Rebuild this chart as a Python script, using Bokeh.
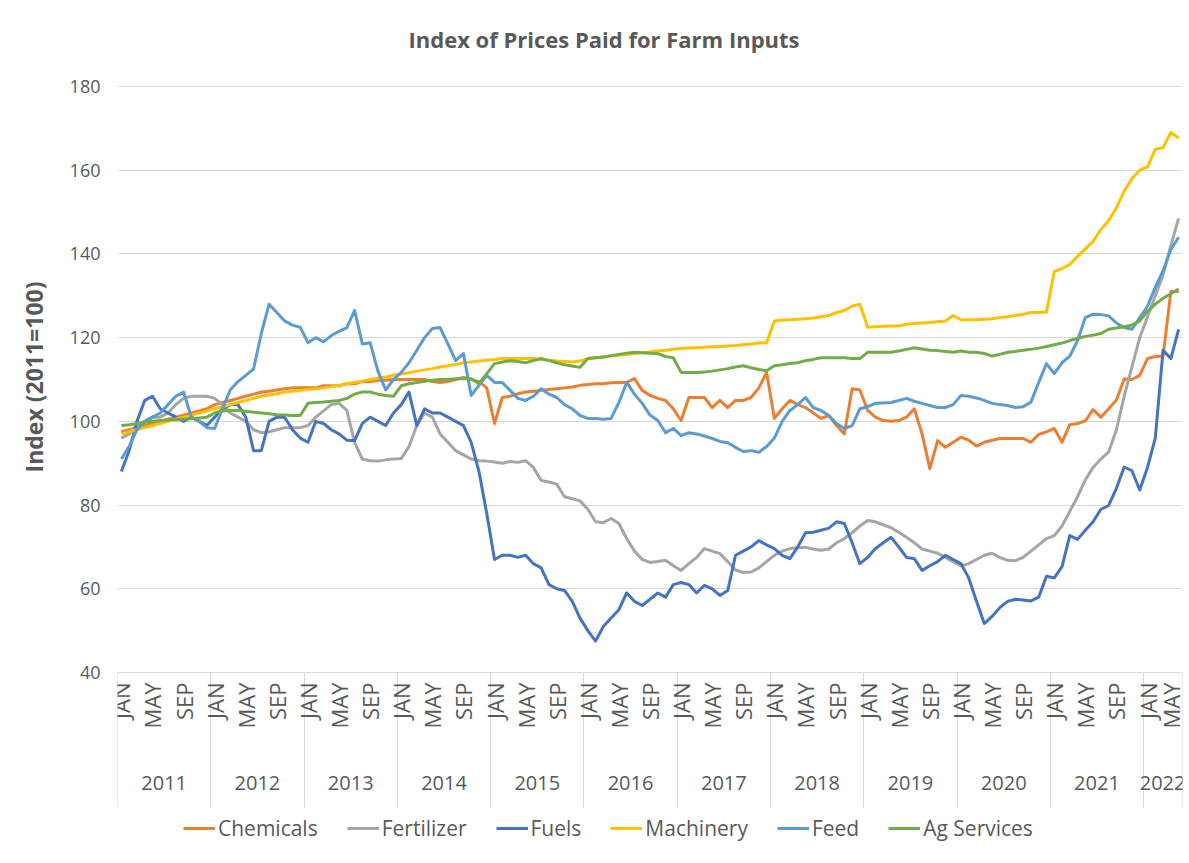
import math
from bokeh.plotting import figure
from bokeh.models import Range1d, LinearAxis, FixedTicker, Legend, LegendItem, ColumnDataSource, Title
from bokeh.embed import file_html
from bokeh.resources import INLINE

TITLE = "Index of Prices Paid for Farm Inputs"
Y_LABEL = "Index (2011=100)"
YEARS = ["2011", "2012", "2013", "2014", "2015", "2016", "2017", "2018", "2019", "2020", "2021", "2022"]
MONTHS = ["JAN", "FEB", "MAR", "APR", "MAY", "JUN", "JUL", "AUG", "SEP", "OCT", "NOV", "DEC"]
MONTHS_IN_YEAR = [12, 12, 12, 12, 12, 12, 12, 12, 12, 12, 12, 5]
SHOWN_MONTHS = ["JAN", "MAY", "SEP"]
Y_TICKS = [40, 60, 80, 100, 120, 140, 160, 180]

chemicals = [
    97.5, 98, 98.5, 99, 99.5, 100, 100.5, 101, 101.5, 102, 102.5, 103,
    104, 104.5, 105, 105.5, 106, 106.5, 107, 107.2, 107.5, 107.8, 108, 108,
    108, 108, 108.5, 108.5, 108.5, 109, 109, 109.5, 109.5, 109.8, 109.8, 110,
    110, 110, 110, 110, 109.5, 109.3, 109.5, 110, 110.5, 110, 109.5, 108,
    99.5, 105.7, 106, 106.6, 107, 107.2, 107.4, 107.6, 107.8, 108, 108.2, 108.6,
    108.8, 109, 109, 109.2, 109.3, 109.3, 110.2, 107.4, 106.2, 105.5, 105, 103,
    100.2, 105.7, 105.7, 105.7, 103.3, 105, 103.3, 105, 105, 105.7, 108, 111.7,
    100.7, 103, 105, 104, 103.3, 102, 100.7, 101.4, 99, 97, 107.8, 107.5,
    102.6, 101, 100.2, 100, 100.2, 101, 103, 97, 88.7, 95.4, 93.8, 95,
    96.2, 95.5, 94.1, 95, 95.5, 95.9, 95.9, 95.9, 95.9, 95, 96.9, 97.5,
    98.3, 95, 99.2, 99.5, 100.1, 102.8, 101, 103, 105.1, 110.1, 110, 111,
    115, 115.5, 115.6, 131, 131,
]
fertilizer = [
    96, 97, 99, 100, 101, 101, 102, 104, 105.5, 106, 106, 106,
    105.5, 104, 102, 101, 100, 98, 97.3, 97.5, 98, 98.5, 98.5, 98.5,
    99, 101, 102.5, 104, 104.3, 102.6, 95, 91, 90.6, 90.5, 90.8, 91,
    91.1, 94, 99, 102, 101, 97, 95, 93, 92, 91, 90.6, 90.5,
    90.3, 90, 90.4, 90.2, 90.6, 89, 85.9, 85.5, 85, 82, 81.5, 81,
    79, 76, 75.8, 76.8, 75.6, 72, 69, 67, 66.3, 66.5, 66.8, 65.5,
    64.4, 66, 67.5, 69.6, 69, 68.4, 66.5, 64.5, 63.9, 64, 65, 66.5,
    68, 69, 69.6, 69.8, 69.9, 69.5, 69.2, 69.5, 71, 72, 73.4, 75,
    76.3, 76, 75.3, 74.6, 73.5, 72.3, 71, 69.5, 69, 68.5, 67.5, 66.5,
    65.5, 66, 67, 68, 68.5, 67.5, 66.8, 66.7, 67.5, 69, 70.5, 72,
    72.7, 75, 78.5, 82, 86, 89, 91, 92.7, 98, 106, 113, 120,
    125, 130, 135, 142, 148.5,
]
fuels = [
    88, 93, 100, 105, 106, 103, 102, 101, 100, 101, 100, 99,
    101, 103, 104, 104, 101, 93, 93, 100, 101, 101, 98, 96,
    95, 100, 99.5, 98, 97, 95.5, 95.4, 99.5, 101, 100, 99, 102,
    104, 107, 99, 103, 102, 102, 101, 100, 99, 95, 88, 78,
    67, 68, 68, 67.5, 68, 66, 65, 61, 60, 59.6, 57, 53,
    50, 47.5, 51, 53, 55, 59, 57, 56, 57.5, 59, 58, 61,
    61.5, 61, 59, 60.8, 60, 58.4, 59.6, 68, 69, 70, 71.5, 70.5,
    69.6, 68, 67.2, 70, 73.4, 73.5, 74, 74.5, 76, 75.6, 71, 66,
    67.5, 69.6, 71, 72.3, 70, 67.5, 67.2, 64.4, 65.5, 66.5, 68, 67,
    66, 62.6, 57, 51.7, 53.4, 55.5, 57, 57.5, 57.3, 57.1, 58, 63,
    62.6, 65.3, 72.7, 71.8, 74, 76, 79, 79.9, 84, 89.1, 88.2, 83.6,
    89, 96, 117, 115, 122,
]
machinery = [
    97, 97.5, 98, 98.5, 99, 99.5, 100, 100.5, 101, 101.5, 102, 102.5,
    103, 103.5, 104, 104.5, 105, 105.5, 106, 106.3, 106.6, 107, 107.2, 107.4,
    107.6, 107.8, 108, 108.3, 108.6, 109, 109.3, 109.6, 110, 110.3, 110.6, 111,
    111.3, 111.6, 112, 112.3, 112.6, 113, 113.3, 113.6, 114, 114.2, 114.4, 114.6,
    114.8, 115, 115, 115, 115, 115, 114.8, 114.6, 114.4, 114.3, 114.2, 114.4,
    115, 115.2, 115.4, 115.6, 115.8, 116, 116.2, 116.4, 116.6, 116.8, 117, 117.2,
    117.4, 117.5, 117.6, 117.7, 117.8, 117.9, 118, 118.1, 118.3, 118.5, 118.7, 118.8,
    124, 124.2, 124.3, 124.4, 124.5, 124.7, 125, 125.3, 126, 126.5, 127.5, 128,
    122.5, 122.6, 122.7, 122.8, 122.8, 123.2, 123.4, 123.5, 123.6, 123.8, 124, 125.3,
    124.3, 124.3, 124.3, 124.4, 124.5, 124.8, 125, 125.3, 125.6, 126, 126, 126.1,
    135.8, 136.5, 137.5, 139.4, 141.2, 143, 145.8, 148, 151, 155, 158, 160,
    160.8, 165, 165.4, 169, 167.7,
]
feed = [
    91, 94, 98, 100, 101, 102, 104, 106, 107, 101, 100, 98.5,
    98.3, 103, 107.5, 109.5, 111, 112.5, 121, 128, 126, 124, 123, 122.5,
    118.8, 120, 119, 120.5, 121.5, 122.4, 126.5, 118.5, 118.8, 112, 107.5, 110,
    111.7, 114, 117, 120, 122.2, 122.4, 118.5, 114.5, 116.2, 106.2, 108.6, 111,
    109.3, 109.3, 107.4, 105.5, 105, 106, 107.8, 106.5, 105.7, 104, 103, 101.4,
    100.7, 100.7, 100.5, 100.7, 104.5, 109.3, 106.5, 104.3, 101.5, 100.2, 97.3, 98.3,
    96.6, 97.3, 97, 96.5, 95.9, 95.2, 94.9, 93.8, 92.8, 93, 92.6, 94,
    96, 100, 102.6, 104, 105.7, 103.3, 102.6, 101.4, 99.5, 98.3, 99, 103,
    103.5, 104.3, 104.4, 104.5, 105, 105.5, 104.8, 104.3, 103.8, 103.3, 103.3, 104,
    106.2, 106, 105.6, 105, 104.3, 104, 103.8, 103.3, 103.5, 104.6, 109.3, 113.8,
    111.4, 114, 115.6, 119.3, 124.8, 125.6, 125.5, 125.2, 123.5, 122.4, 122, 124.8,
    127.5, 132, 136, 141, 144,
]
ag_services = [
    99, 99.2, 99.5, 99.8, 100, 100.2, 100.3, 100.4, 100.5, 100.6, 100.8, 101,
    102, 102.5, 102.6, 102.6, 102.4, 102.2, 102, 101.8, 101.6, 101.5, 101.4, 101.4,
    104.3, 104.5, 104.6, 104.8, 105, 105.5, 106.5, 107, 107, 106.5, 106.2, 106,
    108.5, 109, 109.3, 109.6, 109.8, 110, 110, 110.2, 110.2, 110.2, 109, 111.4,
    113.8, 114.2, 114.5, 114.3, 114, 114.5, 115, 114.5, 114, 113.5, 113.2, 112.9,
    115, 115.2, 115.4, 115.7, 116, 116.3, 116.5, 116.4, 116.3, 116.2, 115.5, 115.2,
    111.7, 111.7, 111.7, 111.8, 112, 112.3, 112.6, 113, 113.3, 112.8, 112.4, 112.1,
    113.3, 113.5, 113.8, 114, 114.5, 114.8, 115.2, 115.2, 115.2, 115.2, 115, 115,
    116.5, 116.5, 116.5, 116.5, 116.8, 117.2, 117.6, 117.3, 117, 116.9, 116.7, 116.5,
    116.8, 116.5, 116.5, 116.2, 115.6, 116, 116.5, 116.7, 117, 117.2, 117.5, 117.9,
    118.3, 118.7, 119.3, 119.8, 120.3, 120.6, 121, 122, 122.3, 122.6, 123, 124,
    126.3, 128, 129.4, 130.5, 131.6,
]

SERIES_NAMES = ["Chemicals", "Fertilizer", "Fuels", "Machinery", "Feed", "Ag Services"]
SERIES_VALUES = [chemicals, fertilizer, fuels, machinery, feed, ag_services]
SERIES_COLORS = ["#ED7D31", "#A5A5A5", "#4472C4", "#FFC000", "#5B9BD5", "#70AD47"]

FONT = "Open Sans"
TEXT_COLOR = "#595959"
GRID_COLOR = "#D9D9D9"

# ---- layout (pixels) ----
FIG_W, FIG_H = 1185, 861
PLOT_LEFT, PLOT_RIGHT_PAD = 117, 3
FRAME_TOP = 74             # frame starts a little above the 180 gridline
AXIS_TOP_PX = 86           # where the value axis maximum sits
AXIS_Y_PX = 672            # where the value axis minimum sits
FRAME_BOTTOM = FIG_H - 3   # frame extends below the axis so the legend can sit inside it

# category structure of the x axis
month_labels = [MONTHS[m] for n in MONTHS_IN_YEAR for m in range(n)]
x_index = list(range(len(month_labels)))
year_starts = []
acc = 0
for n in MONTHS_IN_YEAR:
    year_starts.append(acc)
    acc += n
year_bounds = [s - 0.5 for s in year_starts] + [acc - 0.5]
year_centers = [s + (n - 1) / 2 for s, n in zip(year_starts, MONTHS_IN_YEAR)]
shown_ticks = [i for i, lab in enumerate(month_labels) if lab in SHOWN_MONTHS]

# y range padded so that the 40..180 span lands on AXIS_Y_PX..AXIS_TOP_PX
px_per_unit = (AXIS_Y_PX - AXIS_TOP_PX) / (Y_TICKS[-1] - Y_TICKS[0])
y_start = Y_TICKS[0] - (FRAME_BOTTOM - AXIS_Y_PX) / px_per_unit
y_end = Y_TICKS[-1] + (AXIS_TOP_PX - FRAME_TOP) / px_per_unit

p = figure(
    width=FIG_W, height=FIG_H,
    x_range=Range1d(-0.5, acc - 0.5), y_range=Range1d(y_start, y_end),
    output_backend="svg", toolbar_location=None,
    x_axis_location=None, y_axis_location="left",
    min_border_left=PLOT_LEFT, min_border_right=PLOT_RIGHT_PAD,
    min_border_top=FRAME_TOP, min_border_bottom=FIG_H - FRAME_BOTTOM,
)
p.background_fill_color = "white"
p.border_fill_color = "white"
p.outline_line_color = None

# title
p.title.text = TITLE
p.title.align = "left"
p.title.offset = 291
p.title.standoff = 42
p.title.text_font = FONT
p.title.text_font_size = "22px"
p.title.text_font_style = "bold"
p.title.text_color = TEXT_COLOR

# y axis
yax = p.yaxis[0]
yax.ticker = FixedTicker(ticks=Y_TICKS)
yax.axis_line_color = None
yax.major_tick_line_color = None
yax.minor_tick_line_color = None
yax.major_label_text_font = FONT
yax.major_label_text_font_size = "18px"
yax.major_label_text_color = TEXT_COLOR
yax.major_label_standoff = 11

# y axis title (a side title so it can be centred on the 40-180 span)
ytitle = Title(
    text=Y_LABEL, align="right", offset=207, standoff=31, vertical_align="middle",
    text_font=FONT, text_font_size="23px", text_font_style="bold", text_color=TEXT_COLOR,
)
p.add_layout(ytitle, "left")

p.ygrid.ticker = FixedTicker(ticks=Y_TICKS)
p.ygrid.grid_line_color = GRID_COLOR
p.ygrid.grid_line_width = 1
p.xgrid.visible = False

# x axis: months, with year separators as minor ticks
SEP_LEN = 135
month_axis = LinearAxis(
    fixed_location=Y_TICKS[0],
    ticker=FixedTicker(ticks=shown_ticks, minor_ticks=year_bounds),
    major_label_overrides={i: month_labels[i] for i in shown_ticks},
    major_label_orientation=math.pi / 2,
    major_tick_line_color=None,
    minor_tick_line_color=GRID_COLOR,
    minor_tick_in=0, minor_tick_out=SEP_LEN,
    axis_line_color=GRID_COLOR,
    major_label_text_font=FONT,
    major_label_text_font_size="22px",
    major_label_text_color=TEXT_COLOR,
    major_label_standoff=10 - SEP_LEN,
)
p.add_layout(month_axis, "below")

# x axis: years
year_axis = LinearAxis(
    fixed_location=Y_TICKS[0],
    ticker=FixedTicker(ticks=year_centers),
    major_label_overrides={c: y for c, y in zip(year_centers, YEARS)},
    major_tick_line_color=None,
    minor_tick_line_color=None,
    axis_line_color=None,
    major_label_text_font=FONT,
    major_label_text_font_size="20px",
    major_label_text_color=TEXT_COLOR,
    major_label_standoff=97,
)
p.add_layout(year_axis, "below")

items = []
for name, vals, color in zip(SERIES_NAMES, SERIES_VALUES, SERIES_COLORS):
    src = ColumnDataSource(dict(x=x_index[:len(vals)], y=vals))
    r = p.line("x", "y", source=src, line_color=color, line_width=3, line_join="round")
    items.append(LegendItem(label=name, renderers=[r]))

legend = Legend(
    items=items, orientation="horizontal", location=(66, 16),
    glyph_width=32, glyph_height=28, label_height=28, label_standoff=3, spacing=29,
    padding=0, margin=0, border_line_color=None, background_fill_alpha=0,
    label_text_font=FONT, label_text_font_size="21px", label_text_color=TEXT_COLOR,
)
p.add_layout(legend, "center")

open("out.html", "w").write(file_html(p, INLINE, title=TITLE))
